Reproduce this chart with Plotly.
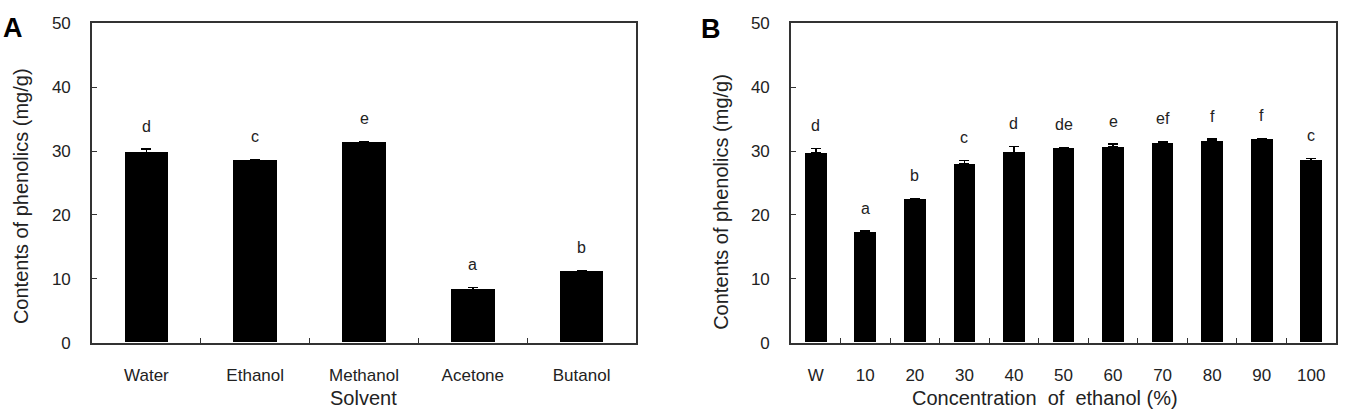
import plotly.graph_objects as go

W, H = 1347, 419

solvents = ["Water", "Ethanol", "Methanol", "Acetone", "Butanol"]
solvent_vals = [29.8, 28.5, 31.3, 8.3, 11.2]
solvent_err = [0.5, 0.2, 0.2, 0.35, 0.1]
solvent_letters = ["d", "c", "e", "a", "b"]

conc = ["W", "10", "20", "30", "40", "50", "60", "70", "80", "90", "100"]
conc_vals = [29.7, 17.2, 22.5, 27.95, 29.75, 30.45, 30.6, 31.15, 31.6, 31.85, 28.5]
conc_err = [0.7, 0.25, 0.1, 0.6, 1.0, 0.05, 0.5, 0.3, 0.25, 0.05, 0.3]
conc_letters = ["d", "a", "b", "c", "d", "de", "e", "ef", "f", "f", "c"]

y_ticks = [0, 10, 20, 30, 40, 50]

FONT = "Liberation Sans, Arial, sans-serif"
TXT = "#222222"
LINE = "#333333"

fig = go.Figure()

fig.add_trace(go.Bar(
    x=solvents, y=solvent_vals, width=0.40,
    marker=dict(color="black", line=dict(width=0)),
    error_y=dict(type="data", array=solvent_err, arrayminus=[0] * len(solvent_err),
                 symmetric=False, color="black", thickness=1.5, width=5),
    xaxis="x", yaxis="y", showlegend=False))

fig.add_trace(go.Bar(
    x=conc, y=conc_vals, width=0.44,
    marker=dict(color="black", line=dict(width=0)),
    error_y=dict(type="data", array=conc_err, arrayminus=[0] * len(conc_err),
                 symmetric=False, color="black", thickness=1.5, width=5),
    xaxis="x2", yaxis="y2", showlegend=False))

annotations = []
for i, (v, e, t) in enumerate(zip(solvent_vals, solvent_err, solvent_letters)):
    annotations.append(dict(x=i, y=v + e, xref="x", yref="y", text=t, showarrow=False,
                            yanchor="middle", yshift=23, font=dict(size=16, color=TXT, family=FONT)))
for i, (v, e, t) in enumerate(zip(conc_vals, conc_err, conc_letters)):
    annotations.append(dict(x=i, y=v + e, xref="x2", yref="y2", text=t, showarrow=False,
                            yanchor="middle", yshift=23, font=dict(size=16, color=TXT, family=FONT)))


def px(x):
    return x / W


def py(y):
    return 1 - y / H


# panel labels
annotations.append(dict(x=px(12.5), y=py(20), xref="paper", yref="paper", text="<b>A</b>",
                        showarrow=False, xanchor="center", yanchor="middle",
                        font=dict(size=27, color="black", family=FONT)))
annotations.append(dict(x=px(711), y=py(21), xref="paper", yref="paper", text="<b>B</b>",
                        showarrow=False, xanchor="center", yanchor="middle",
                        font=dict(size=27, color="black", family=FONT)))
# axis titles
annotations.append(dict(x=px(21), y=py(196), xref="paper", yref="paper",
                        text="Contents of phenolics (mg/g)", textangle=-90, showarrow=False,
                        xanchor="center", yanchor="middle", font=dict(size=20, color=TXT, family=FONT)))
annotations.append(dict(x=px(721), y=py(202), xref="paper", yref="paper",
                        text="Contents of phenolics (mg/g)", textangle=-90, showarrow=False,
                        xanchor="center", yanchor="middle", font=dict(size=20, color=TXT, family=FONT)))
annotations.append(dict(x=px(363), y=py(407), xref="paper", yref="paper",
                        text="Solvent", showarrow=False,
                        xanchor="center", yanchor="middle", font=dict(size=20, color=TXT, family=FONT)))
annotations.append(dict(x=px(1045), y=py(407), xref="paper", yref="paper",
                        text="Concentration&nbsp;&nbsp;of&nbsp;&nbsp;ethanol (%)", showarrow=False,
                        xanchor="center", yanchor="middle", font=dict(size=20, color=TXT, family=FONT)))

xcommon = dict(type="category", showline=True, mirror=True, linecolor=LINE, linewidth=1.6,
               ticks="inside", ticklen=5, tickwidth=1.2, tickcolor=LINE, tickson="boundaries",
               showgrid=False, zeroline=False, ticklabelstandoff=16, tickangle=0,
               tickfont=dict(size=17, color=TXT, family=FONT))
ycommon = dict(range=[0, 50], tickvals=y_ticks, showline=True, mirror=True, linecolor=LINE,
               linewidth=1.6, ticks="inside", ticklen=5, tickwidth=1.2, tickcolor=LINE,
               showgrid=False, zeroline=False, ticklabelstandoff=16,
               tickfont=dict(size=17, color=TXT, family=FONT),
               domain=[py(349.5), py(15)])

fig.update_layout(
    width=W, height=H, margin=dict(l=0, r=0, t=0, b=0),
    paper_bgcolor="white", plot_bgcolor="white",
    bargap=0,
    xaxis=dict(domain=[px(92), px(636)], anchor="y", range=[-0.5, len(solvents) - 0.5],
               categoryorder="array", categoryarray=solvents, **xcommon),
    xaxis2=dict(domain=[px(791), px(1336)], anchor="y2", range=[-0.5, len(conc) - 0.5],
                categoryorder="array", categoryarray=conc, **xcommon),
    yaxis=dict(anchor="x", **ycommon),
    yaxis2=dict(anchor="x2", **ycommon),
    annotations=annotations,
    font=dict(family=FONT, color=TXT),
)

fig.write_html("out.html")
